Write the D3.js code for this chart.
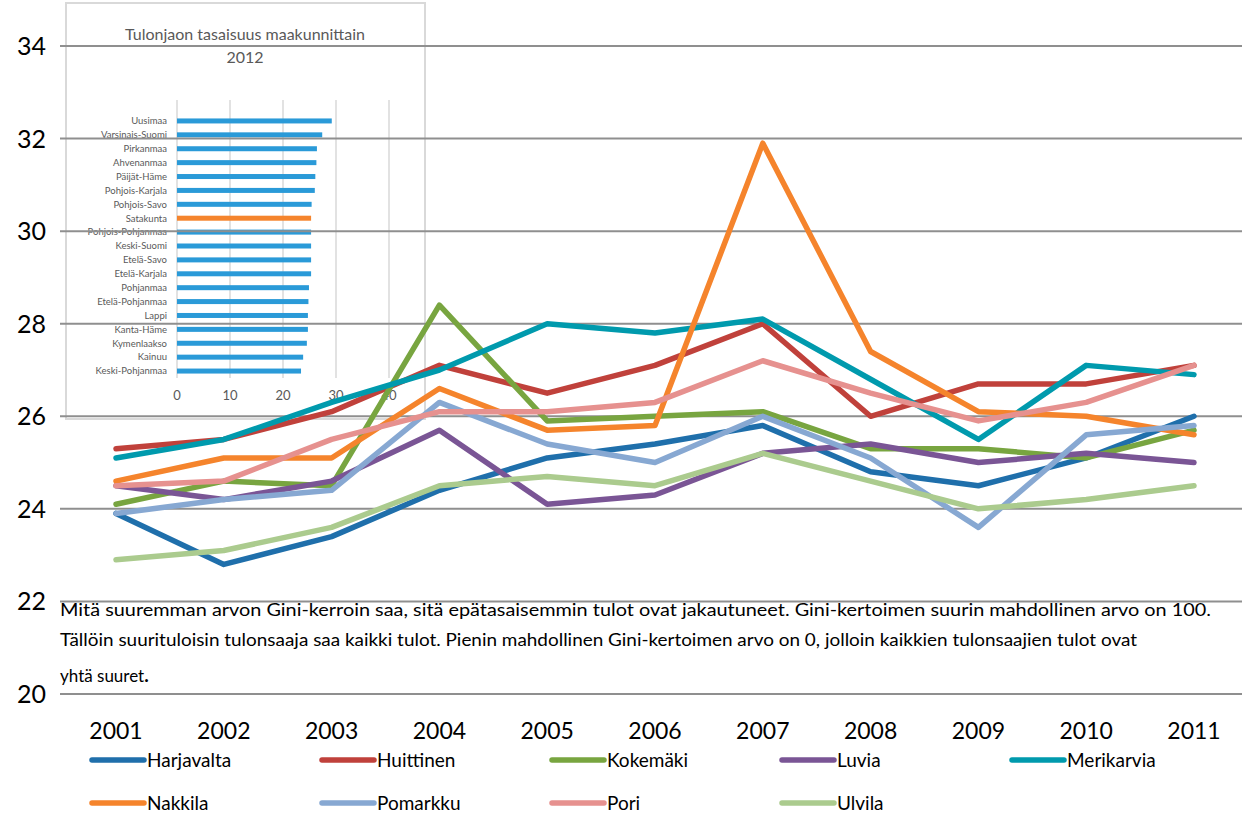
<!DOCTYPE html>
<html>
<head>
<meta charset="utf-8">
<script src="https://cdn.jsdelivr.net/npm/d3@7/dist/d3.min.js"></script>
<style>
  html, body { margin: 0; padding: 0; background: #fff; }
  svg { display: block; }
  text { font-family: Lato, "Liberation Sans", sans-serif; }
</style>
</head>
<body>
<svg id="chart" width="1242" height="814"></svg>
<script>
// Gini coefficient by municipality, 2001–2011
const years = [2001, 2002, 2003, 2004, 2005, 2006, 2007, 2008, 2009, 2010, 2011];
const yTicks = [20, 22, 24, 26, 28, 30, 32, 34];

const seriesNames = ["Harjavalta", "Huittinen", "Kokemäki", "Luvia", "Merikarvia",
                     "Nakkila", "Pomarkku", "Pori", "Ulvila"];
const seriesColors = ["#1f6fab", "#c0413b", "#78a540", "#7a5595", "#009aad",
                      "#f5842c", "#87a8d2", "#e6918f", "#abcb8e"];

const harjavalta = [23.9, 22.8, 23.4, 24.4, 25.1, 25.4, 25.8, 24.8, 24.5, 25.1, 26.0];
const huittinen  = [25.3, 25.5, 26.1, 27.1, 26.5, 27.1, 28.0, 26.0, 26.7, 26.7, 27.1];
const kokemaki   = [24.1, 24.6, 24.5, 28.4, 25.9, 26.0, 26.1, 25.3, 25.3, 25.1, 25.7];
const luvia      = [24.5, 24.2, 24.6, 25.7, 24.1, 24.3, 25.2, 25.4, 25.0, 25.2, 25.0];
const merikarvia = [25.1, 25.5, 26.3, 27.0, 28.0, 27.8, 28.1, 26.8, 25.5, 27.1, 26.9];
const nakkila    = [24.6, 25.1, 25.1, 26.6, 25.7, 25.8, 31.9, 27.4, 26.1, 26.0, 25.6];
const pomarkku   = [23.9, 24.2, 24.4, 26.3, 25.4, 25.0, 26.0, 25.1, 23.6, 25.6, 25.8];
const pori       = [24.5, 24.6, 25.5, 26.1, 26.1, 26.3, 27.2, 26.5, 25.9, 26.3, 27.1];
const ulvila     = [22.9, 23.1, 23.6, 24.5, 24.7, 24.5, 25.2, 24.6, 24.0, 24.2, 24.5];

const seriesValues = [harjavalta, huittinen, kokemaki, luvia, merikarvia,
                      nakkila, pomarkku, pori, ulvila];

// Inset: income distribution by region, 2012
const regions = ["Uusimaa", "Varsinais-Suomi", "Pirkanmaa", "Ahvenanmaa", "Päijät-Häme",
                 "Pohjois-Karjala", "Pohjois-Savo", "Satakunta", "Pohjois-Pohjanmaa",
                 "Keski-Suomi", "Etelä-Savo", "Etelä-Karjala", "Pohjanmaa",
                 "Etelä-Pohjanmaa", "Lappi", "Kanta-Häme", "Kymenlaakso", "Kainuu",
                 "Keski-Pohjanmaa"];
const regionValues = [29.2, 27.4, 26.4, 26.3, 26.1, 26.0, 25.4, 25.3, 25.3, 25.3,
                      25.3, 25.3, 24.9, 24.8, 24.7, 24.7, 24.5, 23.8, 23.4];
const insetTicks = [0, 10, 20, 30, 40];
const highlightRegion = "Satakunta";

const noteLines = [
  "Mitä suuremman arvon Gini-kerroin saa, sitä epätasaisemmin tulot ovat jakautuneet. Gini-kertoimen suurin mahdollinen arvo on 100.",
  "Tällöin suurituloisin tulonsaaja saa kaikki tulot. Pienin mahdollinen Gini-kertoimen arvo on 0, jolloin kaikkien tulonsaajien tulot ovat",
  "yhtä suuret"
];

const svg = d3.select("#chart");

// Scales for the main chart
const x = d3.scalePoint().domain(years).range([116, 1194]);
const y = d3.scaleLinear().domain([20, 34]).range([694, 46]);

// ---- Inset bar chart (drawn first, transparent box) ----
const inset = svg.append("g").attr("class", "inset");
inset.append("rect")
  .attr("x", 66).attr("y", 3).attr("width", 359).attr("height", 416)
  .attr("fill", "none").attr("stroke", "#d9d9d9").attr("stroke-width", 2);

inset.append("text")
  .attr("x", 245).attr("y", 40)
  .attr("text-anchor", "middle")
  .attr("font-size", 16).attr("fill", "#595959")
  .text("Tulonjaon tasaisuus maakunnittain");
inset.append("text")
  .attr("x", 245).attr("y", 63)
  .attr("text-anchor", "middle")
  .attr("font-size", 16).attr("fill", "#595959")
  .text("2012");

const ix = d3.scaleLinear().domain([0, 40]).range([177, 389]);
const iy = d3.scalePoint().domain(regions).range([114, 378]).padding(0.5);

inset.append("g")
  .selectAll("line")
  .data(insetTicks)
  .join("line")
  .attr("x1", d => ix(d)).attr("x2", d => ix(d))
  .attr("y1", 100).attr("y2", 378)
  .attr("stroke", "#d9d9d9").attr("stroke-width", 1.5);

inset.append("g")
  .selectAll("text")
  .data(insetTicks)
  .join("text")
  .attr("x", d => ix(d)).attr("y", 400)
  .attr("text-anchor", "middle")
  .attr("font-size", 13).attr("fill", "#595959")
  .text(d => d);

inset.append("g")
  .selectAll("rect")
  .data(regions)
  .join("rect")
  .attr("x", ix(0))
  .attr("y", d => iy(d) - 2.5)
  .attr("width", (d, i) => ix(regionValues[i]) - ix(0))
  .attr("height", 5)
  .attr("fill", d => d === highlightRegion ? "#f5842c" : "#2a9ad8");

inset.append("g")
  .selectAll("text")
  .data(regions)
  .join("text")
  .attr("x", 167)
  .attr("y", d => iy(d) + 3.3)
  .attr("text-anchor", "end")
  .attr("font-size", 9.5).attr("fill", "#595959")
  .text(d => d);

// ---- Main grid ----
svg.append("g")
  .selectAll("line")
  .data(yTicks)
  .join("line")
  .attr("x1", 60).attr("x2", 1242)
  .attr("y1", d => y(d)).attr("y2", d => y(d))
  .attr("stroke", "#8f8f8f").attr("stroke-width", 2);

svg.append("g")
  .selectAll("text")
  .data(yTicks)
  .join("text")
  .attr("x", 46).attr("y", d => y(d) + 9)
  .attr("text-anchor", "end")
  .attr("font-size", 25).attr("fill", "#000")
  .text(d => d);

svg.append("g")
  .selectAll("text")
  .data(years)
  .join("text")
  .attr("x", d => x(d)).attr("y", 739)
  .attr("text-anchor", "middle")
  .attr("font-size", 23).attr("fill", "#000")
  .text(d => d);

// ---- Note text ----
const note = svg.append("g").attr("font-size", 17).attr("fill", "#000");
note.append("text").attr("x", 60).attr("y", 616)
  .attr("textLength", 1151).attr("lengthAdjust", "spacingAndGlyphs")
  .text(noteLines[0]);
note.append("text").attr("x", 60).attr("y", 646)
  .attr("textLength", 1077).attr("lengthAdjust", "spacingAndGlyphs")
  .text(noteLines[1]);
const last = note.append("text").attr("x", 60).attr("y", 682);
last.append("tspan").text(noteLines[2]);
last.append("tspan").attr("font-weight", "bold").attr("font-size", 19).text(".");

// ---- Lines ----
const line = d3.line()
  .x((d, i) => x(years[i]))
  .y(d => y(d));

svg.append("g")
  .selectAll("path")
  .data(seriesValues)
  .join("path")
  .attr("d", d => line(d))
  .attr("fill", "none")
  .attr("stroke", (d, i) => seriesColors[i])
  .attr("stroke-width", 5.5)
  .attr("stroke-linejoin", "round")
  .attr("stroke-linecap", "round");

// ---- Legend ----
const legend = svg.append("g")
  .selectAll("g")
  .data(seriesNames)
  .join("g")
  .attr("transform", (d, i) => `translate(${90 + (i % 5) * 230},${760 + Math.floor(i / 5) * 43})`);

legend.append("line")
  .attr("x1", 2).attr("x2", 54).attr("y1", 0).attr("y2", 0)
  .attr("stroke", (d, i) => seriesColors[i])
  .attr("stroke-width", 5.5)
  .attr("stroke-linecap", "round");

legend.append("text")
  .attr("x", 57).attr("y", 7)
  .attr("font-size", 19).attr("fill", "#000")
  .text(d => d);
</script>
</body>
</html>
